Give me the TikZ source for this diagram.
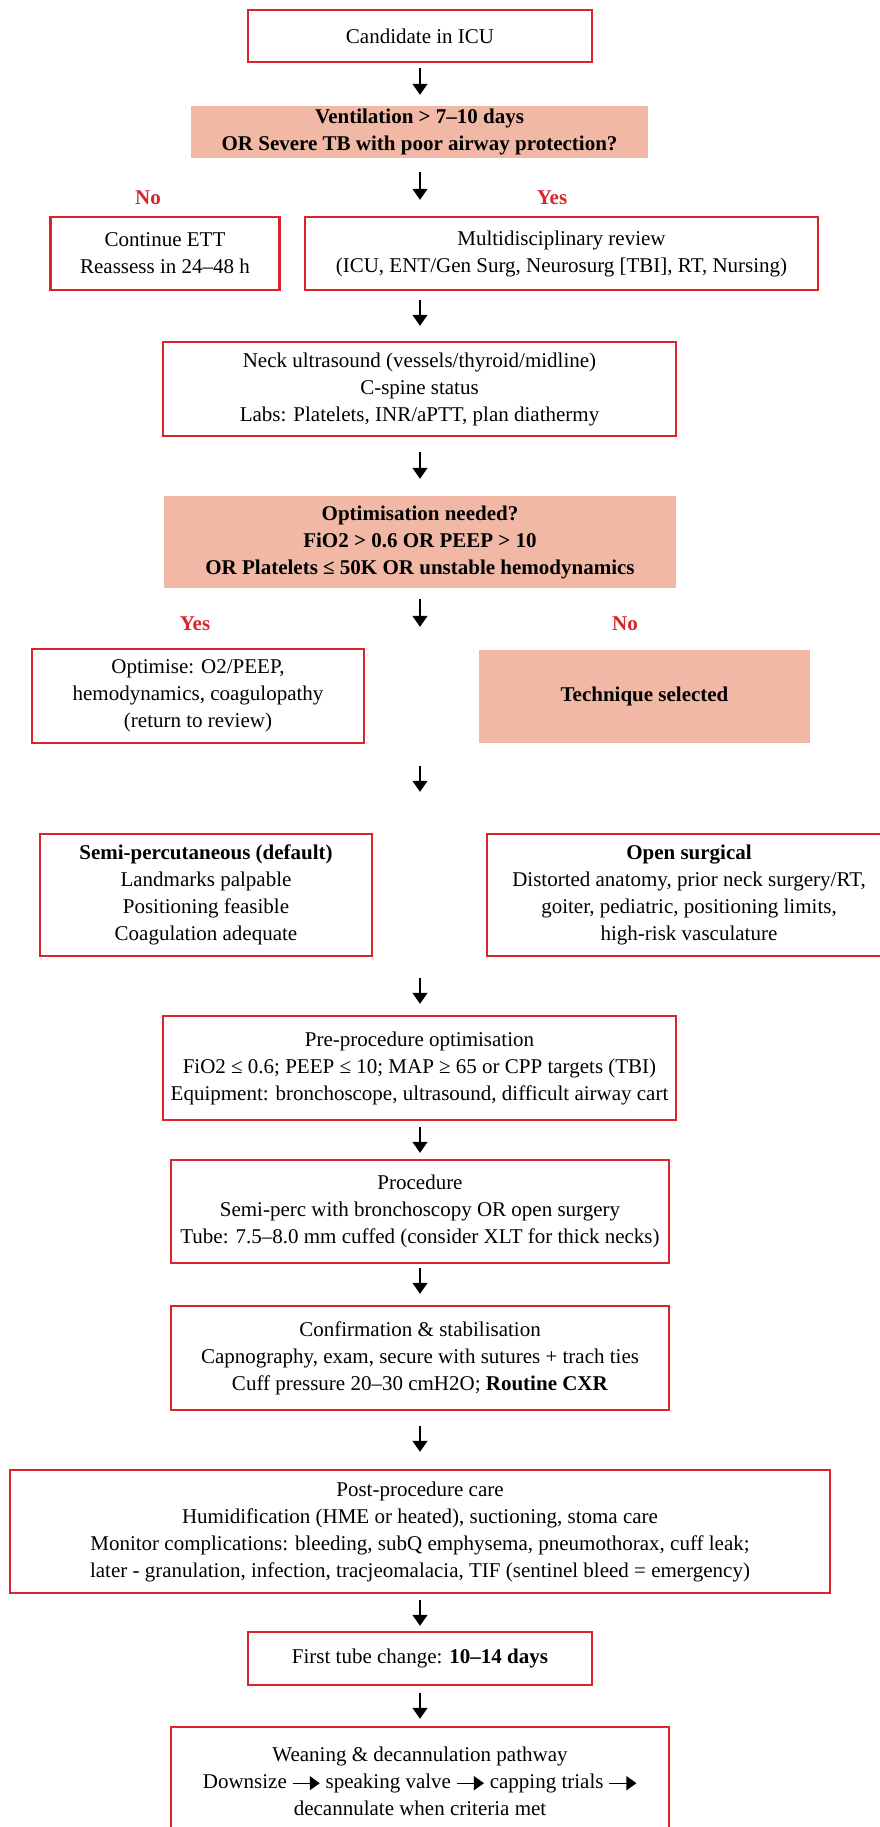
\documentclass[tikz,border=0pt]{standalone}
\usepackage{fontspec}
\setmainfont{Liberation Serif}
\usetikzlibrary{arrows.meta}

\definecolor{boxred}{RGB}{218,37,44}
\definecolor{qfill}{RGB}{240,184,165}

% small arrow used inside the weaning box
\newcommand{\weanarrow}{\tikz[baseline=-5pt]\draw[draw=black, fill=black, line width=1.3pt, -{Triangle[length=10pt,width=14pt]}] (0pt,0pt) -- (27pt,0pt);}

\begin{document}
\fontsize{21}{27}\selectfont
\begin{tikzpicture}[x=1pt, y=-1pt,
    box/.style={draw=boxred, line width=2.4pt, align=center, inner sep=0pt},
    qbox/.style={fill=qfill, align=center, inner sep=0pt, font=\bfseries},
    lbl/.style={text=boxred, font=\bfseries, inner sep=0pt},
    flow/.style={-{Triangle[length=11pt,width=15pt]}, line width=1.4pt}]
  \useasboundingbox (0,0) rectangle (880,1827);
  \clip (0,0) rectangle (880,1827);

  \node[box, minimum width=344, minimum height=52] (cand) at (420,36) {Candidate in ICU};
  \node[qbox, minimum width=457, minimum height=52] (vent) at (419.5,132)
    {Ventilation > 7--10 days\\OR Severe TB with poor airway protection?};
  \node[lbl] (noA) at (148,198) {No};
  \node[lbl] (yesA) at (552,198) {Yes};
  \node[box, minimum width=229, minimum height=73] (cett) at (165,253.5)
    {Continue ETT\\Reassess in 24--48 h};
  \node[box, minimum width=513, minimum height=73] (mdr) at (561.5,253.5)
    {Multidisciplinary review\\(ICU, ENT/Gen Surg, Neurosurg [TBI], RT, Nursing)};
  \node[box, minimum width=513, minimum height=94] (neck) at (419.5,389)
    {Neck ultrasound (vessels/thyroid/midline)\\C-spine status\\Labs: Platelets, INR/aPTT, plan diathermy};
  \node[qbox, minimum width=512, minimum height=92] (optq) at (420,542)
    {Optimisation needed?\\FiO2 > 0.6 OR PEEP > 10\\OR Platelets ≤ 50K OR unstable hemodynamics};
  \node[lbl] (yesB) at (195,624) {Yes};
  \node[lbl] (noB) at (625,624) {No};
  \node[box, minimum width=332, minimum height=94] (optm) at (198,696)
    {Optimise: O2/PEEP,\\hemodynamics, coagulopathy\\(return to review)};
  \node[qbox, minimum width=331, minimum height=93] (tech) at (644.5,696.5) {Technique selected};

  % techniques
  \node[box, minimum width=332, minimum height=122] (semi) at (206,895)
    {\textbf{Semi-percutaneous (default)}\\Landmarks palpable\\Positioning feasible\\Coagulation adequate};
  \node[box, minimum width=404, minimum height=122] (open) at (689,895)
    {\textbf{Open surgical}\\Distorted anatomy, prior neck surgery/RT,\\goiter, pediatric, positioning limits,\\high-risk vasculature};

  \node[box, minimum width=513, minimum height=104] (pre) at (419.5,1068)
    {Pre-procedure optimisation\\FiO2 ≤ 0.6; PEEP ≤ 10; MAP ≥ 65 or CPP targets (TBI)\\Equipment: bronchoscope, ultrasound, difficult airway cart};
  \node[box, minimum width=498, minimum height=103] (proc) at (420,1211.5)
    {Procedure\\Semi-perc with bronchoscopy OR open surgery\\Tube: 7.5--8.0 mm cuffed (consider XLT for thick necks)};
  \node[box, minimum width=498, minimum height=104] (conf) at (420,1358)
    {Confirmation \& stabilisation\\Capnography, exam, secure with sutures + trach ties\\Cuff pressure 20--30 cmH2O; \textbf{Routine CXR}};
  \node[box, minimum width=820, minimum height=123] (post) at (420,1531.5)
    {Post-procedure care\\Humidification (HME or heated), suctioning, stoma care\\Monitor complications: bleeding, subQ emphysema, pneumothorax, cuff leak;\\later - granulation, infection, tracjeomalacia, TIF (sentinel bleed = emergency)};
  \node[box, minimum width=344, minimum height=53] (first) at (420,1658.5)
    {First tube change: \textbf{10--14 days}};
  \node[box, minimum width=498, minimum height=108] (wean) at (420,1781)
    {Weaning \& decannulation pathway\\Downsize \weanarrow{} speaking valve \weanarrow{} capping trials \weanarrow\\decannulate when criteria met};

  % arrows down the middle
  \draw[flow, shorten <=5pt, shorten >=11pt] (cand.south) -- (cand.south |- vent.north);
  \draw[flow, shorten <=14pt, shorten >=16pt] (cand.south |- vent.south) -- (cand.south |- mdr.north);
  \draw[flow, shorten <=9pt, shorten >=15pt] (cand.south |- mdr.south) -- (cand.south |- neck.north);
  \draw[flow, shorten <=15pt, shorten >=17pt] (cand.south |- neck.south) -- (cand.south |- optq.north);
  \draw[flow, shorten <=11pt, shorten >=23pt] (cand.south |- optq.south) -- (cand.south |- tech.north);
  \draw[flow, shorten <=22pt, shorten >=41pt] (cand.south |- optm.south) -- (cand.south |- semi.north);
  \draw[flow, shorten <=21pt, shorten >=11pt] (cand.south |- semi.south) -- (cand.south |- pre.north);
  \draw[flow, shorten <=6pt, shorten >=6pt] (cand.south |- pre.south) -- (cand.south |- proc.north);
  \draw[flow, shorten <=4pt, shorten >=11pt] (proc.south) -- (conf.north);
  \draw[flow, shorten <=15pt, shorten >=17pt] (conf.south) -- (post.north);
  \draw[flow, shorten <=6pt, shorten >=5pt] (post.south) -- (first.north);
  \draw[flow, shorten <=7pt, shorten >=7pt] (first.south) -- (wean.north);
\end{tikzpicture}
\end{document}
